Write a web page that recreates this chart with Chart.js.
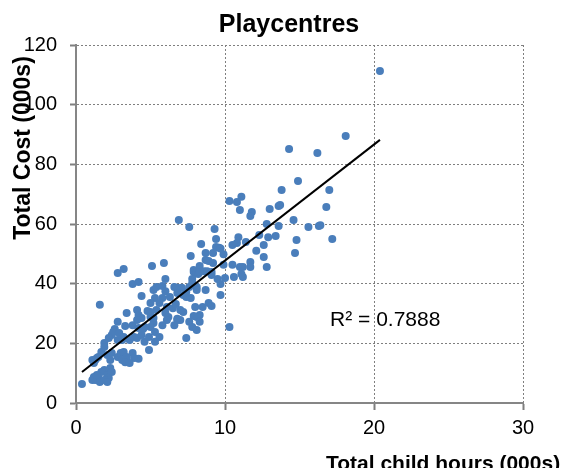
<!DOCTYPE html>
<html>
<head>
<meta charset="utf-8">
<title>Playcentres</title>
<script src="https://cdn.jsdelivr.net/npm/chart.js@4.4.0/dist/chart.umd.min.js"></script>
<style>
  html, body { margin: 0; padding: 0; background: #fff; }
</style>
</head>
<body>
<canvas id="playcentres" width="561" height="468"></canvas>
<script>
// total child hours (000s), one entry per centre
const hours = [
  20.4, 18.1, 16.2, 14.3, 17.0, 16.8, 15.6, 16.3, 16.4, 17.2, 14.9, 13.8,
  10.3, 10.8, 11.1, 11.0, 11.8, 11.7, 13.0, 13.6, 13.7, 14.6, 12.8, 13.6,
  14.8, 14.7, 12.3, 12.9, 13.4, 12.6, 12.1, 12.6, 12.8, 11.7, 11.7, 11.0, 11.2, 10.5,
  11.4, 10.9, 10.8, 10.5, 9.3, 7.6, 9.4, 8.4, 9.4, 9.6, 9.7, 7.7, 8.7, 9.2, 9.9,
  8.7, 8.9, 9.2, 8.3, 9.9, 6.9, 11.1,
  7.9, 7.9, 8.1, 8.2, 8.3, 8.6, 8.8, 9.1, 9.1, 5.9, 5.1, 6.0, 9.5, 9.7, 10.0, 10.6, 11.2, 7.8,
  8.7, 8.1, 8.1, 7.8, 7.6, 9.7, 5.2, 5.4, 5.8, 6.0,
  6.6, 6.8, 7.1, 6.8, 7.2, 7.4, 7.7, 6.3, 5.8, 5.3, 5.0, 7.4,
  5.6, 6.1, 6.5, 6.7, 7.0, 7.2, 5.4, 8.0, 8.5, 8.9, 8.3, 8.1, 7.9, 5.0, 5.0, 5.2, 6.0, 6.2, 6.8, 7.0,
  2.8, 3.2, 3.8, 4.2, 1.6, 4.4, 3.4, 4.1, 4.2, 4.4, 4.1, 4.8, 7.6, 7.8, 6.8, 6.6, 6.1, 5.8,
  5.2, 5.0, 4.6, 3.8, 4.2, 3.3, 2.8, 2.6, 4.5,
  0.4, 2.5, 2.4, 2.2, 1.9, 1.9, 2.9, 3.2, 3.1, 2.8, 3.6, 3.9, 4.1, 4.4, 4.6, 4.9, 5.3, 5.6, 5.3, 4.9, 4.2,
  1.7, 1.5, 1.4, 2.1, 1.3, 1.2, 1.1, 2.3, 2.4, 2.8, 3.0, 3.2, 3.4, 3.8, 3.9, 3.1, 3.3, 3.6,
  2.3, 1.9, 1.7, 2.1, 2.4, 2.2, 1.2, 1.3, 1.5, 1.6, 1.1, 1.4, 1.9, 2.1,
  7.4, 8.3, 10.3, 9.1, 8.1
];

// total cost (000s), same order as hours
const cost = [
  111.3, 89.5, 83.8, 85.1, 71.4, 65.7, 59.0, 59.3, 59.6, 55.0, 74.4, 71.4,
  67.7, 67.4, 69.1, 64.7, 64.0, 62.7, 65.0, 66.0, 66.4, 61.3, 60.0, 59.3,
  54.6, 50.3, 56.3, 55.6, 56.0, 53.0, 51.0, 48.9, 45.6, 47.3, 45.6, 45.6, 45.6, 46.3,
  54.0, 55.6, 53.6, 53.0, 58.3, 59.0, 55.0, 53.3, 52.3, 52.0, 51.8, 49.3, 50.3, 50.3, 49.9,
  47.9, 47.6, 46.9, 45.9, 46.3, 61.3, 43.2,
  44.6, 43.9, 43.6, 43.2, 43.9, 44.2, 44.2, 43.9, 42.9, 46.9, 45.9, 41.6, 41.6, 39.9, 41.9, 42.2, 42.2, 41.6,
  37.9, 38.9, 37.9, 40.2, 38.9, 36.2, 37.9, 38.9, 39.2, 37.5,
  38.9, 38.6, 38.6, 36.9, 36.2, 35.5, 35.2, 35.5, 35.2, 35.2, 33.5, 37.2,
  33.5, 32.2, 31.8, 33.2, 31.2, 30.5, 31.2, 32.2, 32.2, 33.5, 29.5, 28.8, 29.2, 30.5, 28.8, 28.5, 30.2, 28.8, 27.8, 27.8,
  43.6, 44.9, 39.9, 40.6, 32.9, 35.9, 30.2, 31.2, 29.5, 28.5, 27.8, 30.8, 27.2, 25.5, 28.2, 26.1, 27.8, 26.1,
  26.8, 25.5, 25.5, 26.1, 25.1, 25.8, 27.2, 24.8, 24.8,
  6.4, 23.8, 22.8, 21.8, 20.1, 18.8, 23.5, 22.1, 21.1, 21.1, 21.1, 22.1, 21.8, 22.8, 20.5, 22.1, 23.8, 22.1, 20.5, 17.8, 14.8,
  17.1, 15.4, 15.1, 16.1, 14.4, 13.4, 14.4, 14.4, 16.8, 15.4, 16.8, 17.1, 15.4, 16.8, 15.1, 14.4, 13.7, 13.4,
  11.7, 11.1, 10.4, 9.4, 10.4, 8.4, 8.7, 7.7, 8.4, 7.0, 7.7, 9.4, 7.7, 7.0,
  21.8, 27.2, 25.5, 32.5, 24.5
];

// linear trendline ends as drawn in the picture
const trendHours = [0.4, 20.4];
const trendCost = [10.4, 88.2];

const xRange = [0, 30];
const yRange = [0, 120];
const rSquaredText = "R² = 0.7888";
const rSquaredAt = [17.05, 27.8];

const FONT = "'Liberation Sans', Arial, sans-serif";
const GRID_GREY = "#7f7f7f";

const labelsPlugin = {
  id: "excelLabels",
  afterDraw(chart) {
    const ctx = chart.ctx;
    const x = chart.scales.x;
    const y = chart.scales.y;
    ctx.save();
    ctx.fillStyle = "#000";

    // chart title
    ctx.font = "bold 25px " + FONT;
    ctx.textAlign = "center";
    ctx.textBaseline = "alphabetic";
    ctx.fillText("Playcentres", 289, 32);

    // R squared
    ctx.font = "21px " + FONT;
    ctx.textAlign = "left";
    ctx.textBaseline = "middle";
    ctx.fillText(rSquaredText, x.getPixelForValue(rSquaredAt[0]), y.getPixelForValue(rSquaredAt[1]));

    // x axis title (runs off the right edge like the original)
    ctx.font = "bold 21px " + FONT;
    ctx.textAlign = "left";
    ctx.textBaseline = "alphabetic";
    ctx.fillText("Total child hours (000s)", 326, 470);

    // y axis title, sits over the "100" label as in the original
    ctx.font = "bold 23px " + FONT;
    ctx.translate(30, 148);
    ctx.rotate(-Math.PI / 2);
    ctx.textAlign = "center";
    ctx.fillText("Total Cost (000s)", 0, 0);
    ctx.restore();
  }
};

new Chart(document.getElementById("playcentres"), {
  type: "scatter",
  data: {
    datasets: [
      {
        type: "line",
        data: trendHours.map((h, i) => ({ x: h, y: trendCost[i] })),
        borderColor: "#000",
        borderWidth: 2,
        pointRadius: 0,
        fill: false
      },
      {
        data: hours.map((h, i) => ({ x: h, y: cost[i] })),
        backgroundColor: "#4a7ebb",
        borderWidth: 0,
        pointRadius: 4
      }
    ]
  },
  options: {
    responsive: false,
    animation: false,
    events: [],
    layout: { padding: { top: 45, right: 38, left: 0, bottom: 0 } },
    plugins: {
      legend: { display: false },
      tooltip: { enabled: false },
      title: { display: false }
    },
    scales: {
      x: {
        type: "linear",
        min: xRange[0],
        max: xRange[1],
        ticks: { stepSize: 10, color: "#000", font: { family: FONT, size: 20 }, padding: 6 },
        grid: { color: GRID_GREY, lineWidth: 1, tickColor: GRID_GREY, tickWidth: 2, tickLength: 7 },
        border: { color: "#868686", width: 2, dash: [2, 2] },
        afterFit(scale) { scale.height = 65; }
      },
      y: {
        min: yRange[0],
        max: yRange[1],
        ticks: { stepSize: 20, color: "#000", font: { family: FONT, size: 20 }, padding: 13 },
        grid: { color: GRID_GREY, lineWidth: 1, tickColor: GRID_GREY, tickWidth: 2, tickLength: 6 },
        border: { color: "#868686", width: 2, dash: [2, 2] },
        afterFit(scale) { scale.width = 76; }
      }
    }
  },
  plugins: [labelsPlugin]
});
</script>
</body>
</html>
